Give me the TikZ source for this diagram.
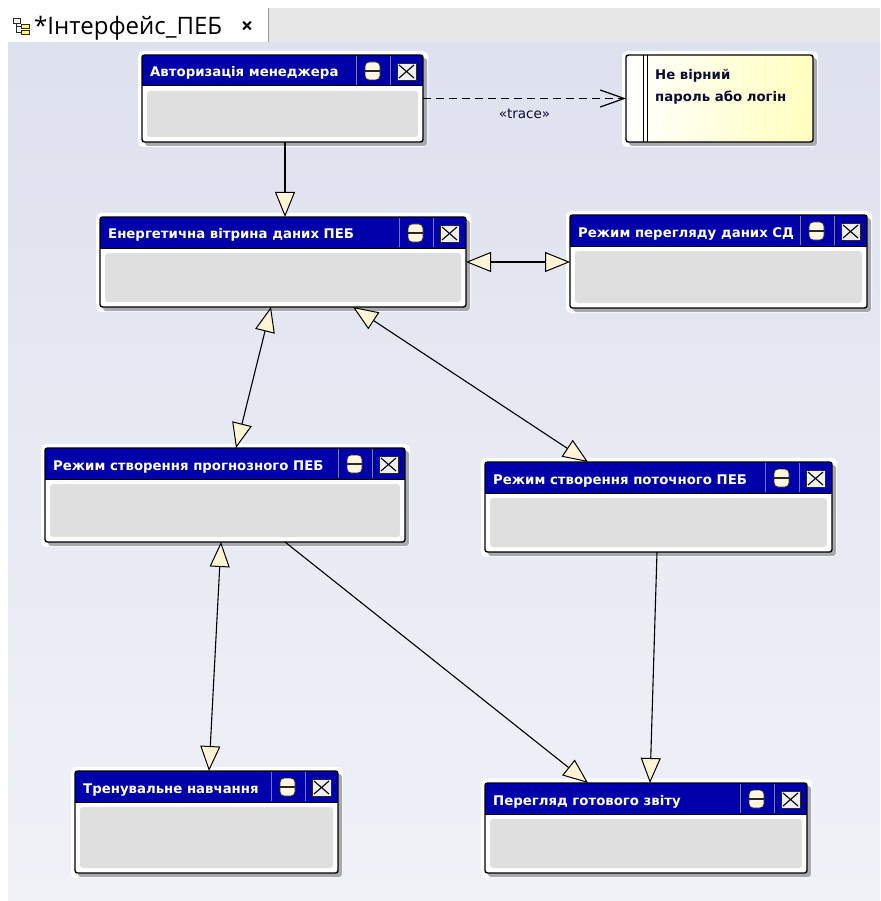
\documentclass[tikz,border=0pt]{standalone}
\usepackage{fontspec}
\usetikzlibrary{arrows.meta,calc,fit}

\newfontfamily\dvsans{DejaVu Sans}
\newfontfamily\tabsans{Open Sans}

\definecolor{hdrblue}{RGB}{0,0,170}
\definecolor{bodygray}{RGB}{223,223,223}
\definecolor{winshadow}{RGB}{168,168,176}
\definecolor{sepline}{RGB}{120,120,190}
\definecolor{iconline}{RGB}{40,40,40}
\definecolor{iconcream}{RGB}{255,246,222}
\definecolor{iconwhite}{RGB}{238,238,238}
\definecolor{canvastop}{RGB}{222,225,238}
\definecolor{canvasbot}{RGB}{241,242,248}
\definecolor{tabgray}{RGB}{231,231,231}
\definecolor{tabline}{RGB}{150,150,150}
\definecolor{arrowcream}{RGB}{255,244,212}
\definecolor{noteyellow}{RGB}{255,255,190}
\definecolor{notetext}{RGB}{12,12,48}

\newcommand\hdrfont{\dvsans\bfseries\fontsize{13.3}{15}\selectfont}
\newcommand\notefont{\dvsans\bfseries\fontsize{13.3}{15}\selectfont}

\tikzset{
  win/.style={inner sep=0pt, outer sep=0pt, fill=white},
  hollowtri/.tip={Triangle[length=25pt,width=20pt,fill=arrowcream,line width=1pt]},
  conn/.style={draw=black, line width=1.1pt},
  single/.style={conn, -hollowtri},
  both/.style={conn, hollowtri-hollowtri},
  tracelink/.style={draw=black, line width=1.2pt, dash pattern=on 8pt off 5pt,
    -{Straight Barb[length=24pt,width=17pt,line width=1.2pt]}},
}

% window-like element: name, x1, y1, x2, y2, title
\newcommand\umlwin[6]{%
  \fill[white, rounded corners=5pt] (#2-4,#3-4) rectangle (#4+5,#5+5);
  \fill[winshadow, rounded corners=3pt] (#2+3,#3+3) rectangle (#4+4,#5+4);
  \node[win, fit={(#2,#3) (#4,#5)}] (#1) {};
  \fill[hdrblue] (#2,#3) rectangle (#4,#3+31);
  \draw[black, line width=1pt] (#2,#3+31) -- (#4,#3+31);
  \fill[bodygray, rounded corners=3pt] (#2+5,#3+36) rectangle (#4-5,#5-5);
  \draw[sepline, line width=0.8pt] (#4-67,#3+1) -- (#4-67,#3+30)
                                   (#4-33,#3+1) -- (#4-33,#3+30);
  \draw[black, line width=1.4pt, rounded corners=2.5pt] (#1.north west) rectangle (#1.south east);
  \node[anchor=base west, text=white, font=\hdrfont, inner sep=0pt] at (#2+8,#3+22) {#6};
  \draw[iconline, fill=iconcream, rounded corners=4pt, line width=0.8pt]
    (#4-58,#3+7) rectangle (#4-43,#3+25);
  \draw[iconline, line width=1.3pt] (#4-58,#3+16) -- (#4-43,#3+16);
  \draw[iconline, fill=iconwhite, line width=0.8pt] (#4-26,#3+8) rectangle (#4-7,#3+25);
  \draw[black, line width=1.1pt] (#4-24,#3+10) -- (#4-9,#3+23)
                                 (#4-24,#3+23) -- (#4-9,#3+10);
}

\begin{document}
\begin{tikzpicture}[x=1pt, y=-1pt]
\useasboundingbox (0,0) rectangle (880,901);
\fill[white] (0,0) rectangle (880,901);

% editor tab strip
\fill[tabgray] (268,8) rectangle (880,42);
\draw[tabline, line width=1pt] (268,8) -- (268,42);
\draw[tabline!70, line width=0.8pt] (268,42) -- (880,42);
\node[anchor=base west, inner sep=0pt, font=\tabsans\fontsize{24}{27}\selectfont] (tabtitle)
  at (34,35) {*Інтерфейс\_ПЕБ};
\node[anchor=center, inner sep=0pt, font=\tabsans\bfseries\fontsize{21}{24}\selectfont] (tabclose)
  at (247,27) {×};
% diagram icon in the tab
\draw[iconline, fill=white, line width=0.7pt] (13,18) rectangle (20,23);
\draw[iconline, line width=0.7pt] (16,23) -- (16,32) (16,26) -- (21,26) (16,32) -- (21,32);
\draw[iconline, fill=yellow!60, line width=0.7pt] (21,24) rectangle (29,28);
\draw[iconline, fill=yellow!60, line width=0.7pt] (21,30) rectangle (29,34);

% canvas
\shade[top color=canvastop, bottom color=canvasbot] (8,43) rectangle (880,901);

% elements
\umlwin{auth}{142}{55}{423}{142}{Авторизація менеджера}
\umlwin{peb}{100}{217}{466}{307}{Енергетична вітрина даних ПЕБ}
\umlwin{sd}{570}{215}{867}{308}{Режим перегляду даних СД}
\umlwin{prog}{45}{448}{405}{542}{Режим створення прогнозного ПЕБ}
\umlwin{potoch}{485}{462}{832}{552}{Режим створення поточного ПЕБ}
\umlwin{tren}{75}{771}{338}{873}{Тренувальне навчання}
\umlwin{pereh}{485}{783}{807}{873}{Перегляд готового звіту}

% note
\fill[white, rounded corners=5pt] (622,51) rectangle (818,147);
\fill[winshadow, rounded corners=3pt] (629,58) rectangle (817,146);
\node[win, fit={(626,55) (813,142)}] (note) {};
\shade[left color=white, right color=noteyellow, rounded corners=2.5pt]
  (note.north west) rectangle (note.south east);
\draw[black, line width=1.4pt, rounded corners=2.5pt] (note.north west) rectangle (note.south east);
\draw[black, line width=1pt] (643,55) -- (643,142) (647,55) -- (647,142);
\node[anchor=base west, inner sep=0pt, text=notetext, font=\notefont] (notel1) at (655,80) {Не вірний};
\node[anchor=base west, inner sep=0pt, text=notetext, font=\notefont] (notel2) at (655,102) {пароль або логін};

% connectors
\draw[single] ($(auth.south west)+(143,0)$) -- ($(peb.north west)+(185,0)$);
\draw[tracelink] (auth.east) -- node[below=7pt, text=notetext, font=\dvsans\fontsize{13.5}{15}\selectfont] (tracelbl) {«trace»} (note.west);
\draw[both] (peb.east) -- (peb.east -| sd.west);
\draw[both] ($(peb.south west)+(171,0)$) -- ($(prog.north west)+(191,0)$);
\draw[both] ($(peb.south west)+(253,0)$) -- ($(potoch.north west)+(103,0)$);
\draw[single] ($(prog.south west)+(240,0)$) -- ($(pereh.north west)+(103,0)$);
\draw[single] ($(potoch.south west)+(172,0)$) -- ($(pereh.north west)+(165,0)$);
\draw[both] ($(prog.south west)+(176,0)$) -- ($(tren.north west)+(134,0)$);
\end{tikzpicture}
\end{document}
